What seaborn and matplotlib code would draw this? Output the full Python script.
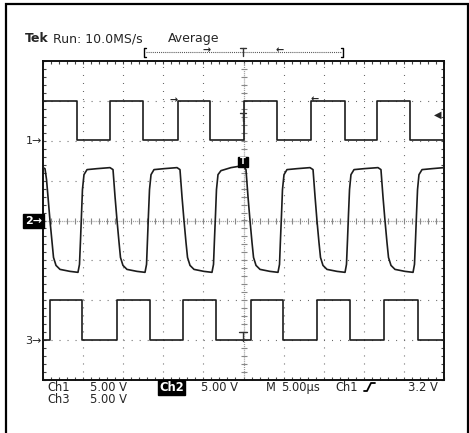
import matplotlib
matplotlib.use("Agg")
import matplotlib.pyplot as plt
import seaborn as sns
import pandas as pd
import numpy as np
from matplotlib.lines import Line2D
from matplotlib.patches import Rectangle

# ---------------- data (time in microseconds, volts) ----------------
ch1_t = [-25.0, -20.8, -16.6, -12.5, -8.2, -4.2, 0.0, 4.2, 8.4, 12.6, 16.7, 20.8, 25.0]
ch1_v = [5.0, 0.1, 5.0, 0.1, 5.0, 0.1, 5.0, 0.1, 5.0, 0.1, 5.0, 0.1, 0.1]

ch3_t = [-25.0, -24.1, -20.1, -15.8, -11.7, -7.6, -3.4, 0.9, 4.9, 9.2, 13.3, 17.5, 21.8, 25.0]
ch3_v = [0.0, 5.0, 0.0, 5.0, 0.0, 5.0, 0.0, 5.0, 0.0, 5.0, 0.0, 5.0, 0.0, 0.0]

ch2_t = [-25.0, -24.75, -24.56, -24.38, -24.13, -23.88, -23.69, -23.38, -22.88, -21.63, -20.64,
         -20.45, -20.32, -20.20, -20.08, -19.89, -19.51, -18.27, -16.65,
         -16.27, -16.02, -15.77, -15.52, -15.34, -15.03, -14.53, -13.28, -12.28,
         -12.09, -11.97, -11.85, -11.72, -11.53, -11.16, -9.91, -8.29,
         -7.92, -7.67, -7.42, -7.17, -6.98, -6.67, -6.17, -4.93, -3.93,
         -3.74, -3.62, -3.49, -3.37, -3.18, -2.81, -1.56, -0.06,
         0.31, 0.56, 0.81, 1.06, 1.25, 1.56, 2.06, 3.30, 4.30,
         4.49, 4.61, 4.74, 4.86, 5.05, 5.42, 6.67, 8.29,
         8.67, 8.92, 9.16, 9.41, 9.60, 9.91, 10.41, 11.66, 12.66,
         12.84, 12.97, 13.09, 13.22, 13.40, 13.78, 15.03, 16.77,
         17.14, 17.39, 17.64, 17.89, 18.08, 18.39, 18.89, 20.14, 21.14,
         21.32, 21.45, 21.57, 21.70, 21.88, 22.26, 23.50, 25.0]
ch2_v = [6.63, 6.5, 5.13, 3.0, 0.0, -2.63, -4.63, -5.63, -6.13, -6.38, -6.5,
         -5.5, -2.38, 0.75, 3.88, 5.75, 6.38, 6.5, 6.63,
         6.38, 3.0, 0.0, -2.75, -4.63, -5.63, -6.13, -6.38, -6.5,
         -5.5, -2.38, 0.75, 3.88, 5.75, 6.38, 6.5, 6.63,
         6.38, 3.0, 0.0, -2.75, -4.63, -5.63, -6.13, -6.38, -6.5,
         -5.5, -2.38, 0.75, 3.88, 5.75, 6.25, 6.63, 6.88,
         6.38, 3.0, 0.0, -2.75, -4.63, -5.63, -6.13, -6.38, -6.5,
         -5.5, -2.38, 0.75, 3.88, 5.75, 6.38, 6.5, 6.63,
         6.38, 3.0, 0.0, -2.75, -4.63, -5.63, -6.13, -6.38, -6.5,
         -5.5, -2.38, 0.75, 3.88, 5.75, 6.38, 6.5, 6.63,
         6.38, 3.0, 0.0, -2.75, -4.63, -5.63, -6.13, -6.38, -6.5,
         -5.5, -2.38, 0.75, 3.88, 5.75, 6.38, 6.5, 6.63]

volts_per_div = 5.0
ch_offsets = {"Ch1": 2.0, "Ch2": 0.0, "Ch3": -3.0}   # screen divisions

# ---------------- figure ----------------
sns.set_style("white")
plt.rcParams['font.family'] = ['DejaVu Sans']
plt.rcParams['lines.scale_dashes'] = False

W, H = 469, 433
fig = plt.figure(figsize=(W / 100, H / 100), dpi=100)
fig.patch.set_facecolor("white")
ax = fig.add_axes([43 / W, 53 / H, 401 / W, 319 / H])
ax.set_xlim(-25, 25)
ax.set_ylim(-4, 4)

def fx(x):
    return x / W

def fy(y):
    return 1 - y / H

# grid (dotted, dots every minor division)
grid_col = "#666666"
for gx in [-20, -15, -10, -5, 5, 10, 15, 20]:
    ax.axvline(gx, color=grid_col, lw=0.8, linestyle=(0, (0.72, 5.05)), zorder=1)
for gy in [-3, -2, -1, 1, 2, 3]:
    ax.axhline(gy, color=grid_col, lw=0.8, linestyle=(0, (0.72, 5.05)), zorder=1)
# centre cross with fine ticks
ax.axvline(0, color="#999999", lw=0.9, linestyle=(0, (0.75, 0.75)), zorder=1)
ax.axhline(0, color="#999999", lw=0.9, linestyle=(0, (0.75, 0.75)), zorder=1)
yt = np.arange(-4, 4.01, 0.2)
xt = np.arange(-25, 25.01, 1.0)
ax.plot(np.zeros_like(yt), yt, ls="none", marker="_", ms=4, mew=0.8, color="#888888", zorder=1)
ax.plot(xt, np.zeros_like(xt), ls="none", marker="|", ms=4, mew=0.8, color="#888888", zorder=1)

# traces
trace_col = "#1c1c1c"
df1 = pd.DataFrame({"t": ch1_t, "div": [ch_offsets["Ch1"] + v / volts_per_div for v in ch1_v]})
df2 = pd.DataFrame({"t": ch2_t, "div": [ch_offsets["Ch2"] + v / volts_per_div for v in ch2_v]})
df3 = pd.DataFrame({"t": ch3_t, "div": [ch_offsets["Ch3"] + v / volts_per_div for v in ch3_v]})
sns.lineplot(data=df1, x="t", y="div", estimator=None, sort=False, drawstyle="steps-post",
             color=trace_col, lw=1.2, ax=ax, legend=False, zorder=3)
sns.lineplot(data=df3, x="t", y="div", estimator=None, sort=False, drawstyle="steps-post",
             color=trace_col, lw=1.2, ax=ax, legend=False, zorder=3)
sns.lineplot(data=df2, x="t", y="div", estimator=None, sort=False,
             color=trace_col, lw=1.2, ax=ax, legend=False, zorder=3)

ax.set_xlabel("")
ax.set_ylabel("")
ax.set_xticks(np.arange(-25, 25.01, 5))
ax.set_xticks(xt, minor=True)
ax.set_yticks(np.arange(-4, 4.01, 1))
ax.set_yticks(yt, minor=True)
ax.tick_params(which="both", direction="in", length=2.5, width=0.8, color="#444444",
               top=True, right=True, bottom=True, left=True,
               labelbottom=False, labelleft=False)
for sp in ax.spines.values():
    sp.set_visible(True)
    sp.set_color("#111111")
    sp.set_linewidth(1.4)

# ---------------- annotations ----------------
fig.patches.append(Rectangle((fx(6), fy(470)), fx(468) - fx(6), fy(4) - fy(470),
                             transform=fig.transFigure, fill=False, ec="black", lw=1.6))

tsz = 9
fig.text(fx(25), fy(42), "Tek", fontsize=tsz, fontweight="bold", va="baseline")
fig.text(fx(53), fy(42), "Run: 10.0MS/s", fontsize=tsz, va="baseline")
fig.text(fx(168), fy(42), "Average", fontsize=tsz, va="baseline")

# record-window bracket
def fline(xs, ys, **kw):
    fig.lines.append(Line2D([fx(v) for v in xs], [fy(v) for v in ys], transform=fig.transFigure, **kw))

fline([146, 144, 144, 146], [48, 48, 57, 57], color="black", lw=1.0)
fline([341, 343, 343, 341], [48, 48, 57, 57], color="black", lw=1.0)
fline([146, 341], [52, 52], color="#555555", lw=0.8, linestyle=(0, (0.75, 0.75)))
fline([240, 246], [48, 48], color="#333333", lw=1.0)
fline([243, 243], [48, 56], color="#333333", lw=1.0)
fig.text(fx(207), fy(50), "→", fontsize=7, ha="center", va="center", fontweight="bold")
fig.text(fx(280), fy(50), "←", fontsize=7, ha="center", va="center", fontweight="bold")

# channel markers
fig.text(fx(42), fy(141), "1→", fontsize=8, ha="right", va="center")
fig.text(fx(42), fy(221), "2→", fontsize=8, ha="right", va="center", color="white",
         fontweight="bold",
         bbox=dict(boxstyle="square,pad=0.15", fc="black", ec="black"))
fig.text(fx(42), fy(341), "3→", fontsize=8, ha="right", va="center")

# markers on traces
fig.text(fx(174), fy(100), "→", fontsize=7, ha="center", va="center", fontweight="bold")
fig.text(fx(315), fy(99), "←", fontsize=7, ha="center", va="center", fontweight="bold")
fline([240, 246], [113, 113], color="#333333", lw=1.0)
fline([243, 243], [113, 121], color="#333333", lw=1.0)
fline([239, 247], [332, 332], color="#333333", lw=1.0)
fline([243, 243], [332, 341], color="#333333", lw=1.0)
fig.patches.append(Rectangle((fx(238), fy(167)), fx(248) - fx(238), fy(157) - fy(167),
                             transform=fig.transFigure, fc="black", ec="black", zorder=5))
fig.text(fx(243), fy(162), "T", fontsize=6, ha="center", va="center", color="white",
         fontweight="bold", zorder=6)
fig.text(fx(441), fy(115), "◀", fontsize=7, ha="right", va="center")

# bottom readouts
bsz = 8.3
bw = "normal"
fig.text(fx(47), fy(391), "Ch1", fontsize=bsz, va="baseline", fontweight=bw)
fig.text(fx(90), fy(391), "5.00 V", fontsize=bsz, va="baseline", fontweight=bw)
fig.text(fx(159), fy(391), "Ch2", fontsize=bsz, va="baseline", color="white", fontweight="bold",
         bbox=dict(boxstyle="square,pad=0.1", fc="black", ec="black"))
fig.text(fx(201), fy(391), "5.00 V", fontsize=bsz, va="baseline", fontweight=bw)
fig.text(fx(266), fy(391), "M", fontsize=bsz, va="baseline", fontweight=bw)
fig.text(fx(281), fy(391), "5.00µs", fontsize=bsz, va="baseline", fontweight=bw)
fig.text(fx(335), fy(391), "Ch1", fontsize=bsz, va="baseline", fontweight=bw)
fline([364, 367, 371, 375], [391, 391, 383, 383], color="black", lw=1.3)
fig.text(fx(438), fy(391), "3.2 V", fontsize=bsz, va="baseline", ha="right", fontweight=bw)
fig.text(fx(47), fy(403), "Ch3", fontsize=bsz, va="baseline", fontweight=bw)
fig.text(fx(90), fy(403), "5.00 V", fontsize=bsz, va="baseline", fontweight=bw)

fig.savefig("out.png", dpi=100)
